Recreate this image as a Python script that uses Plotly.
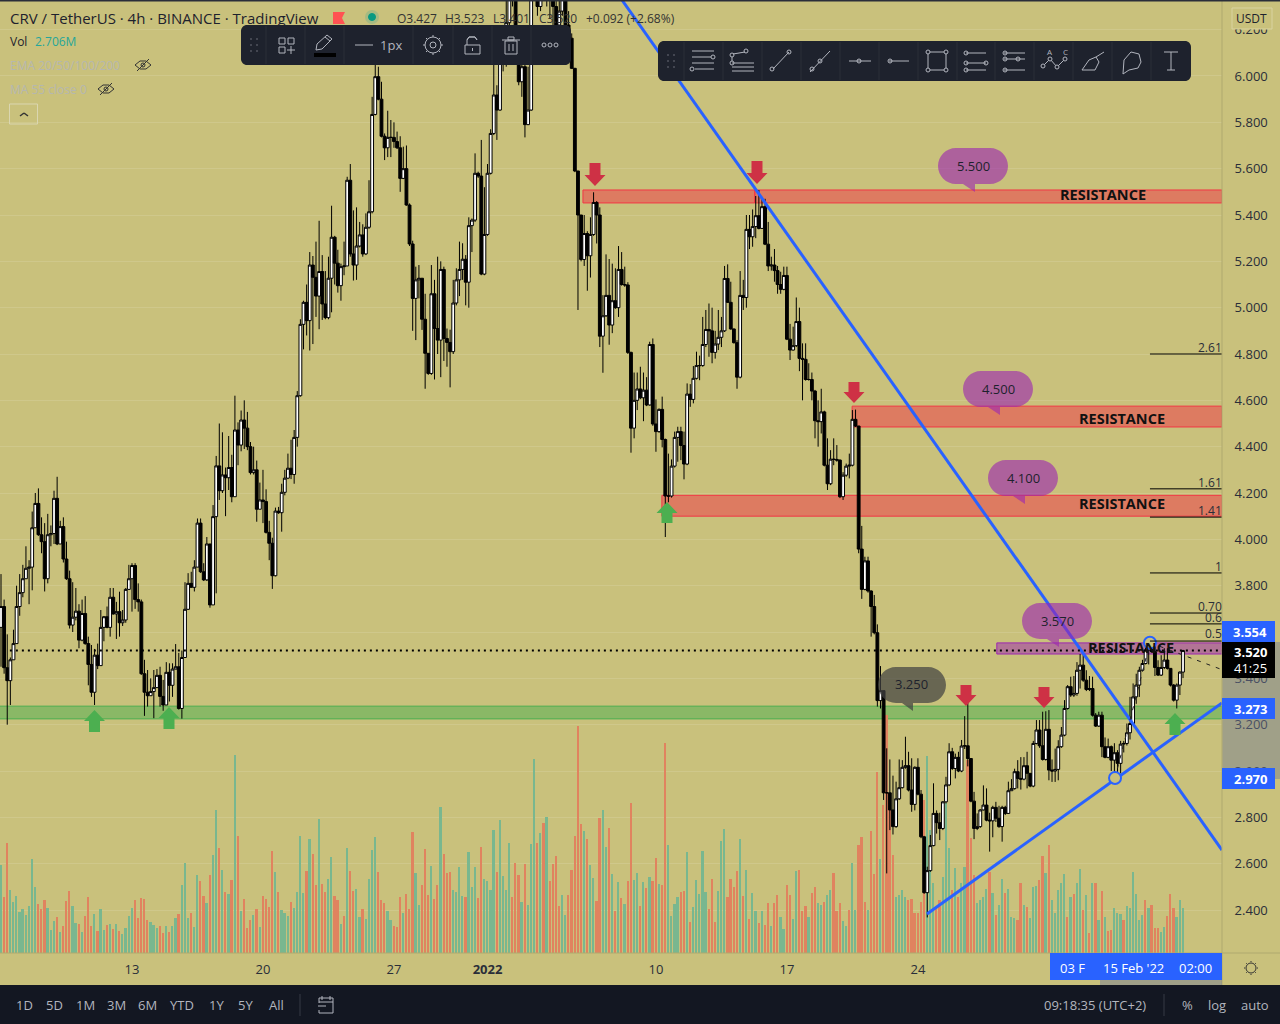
"""CRV / USDT 4h chart, TradingView style."""
import plotly.graph_objects as go

W, H = 1280, 1024
AXIS_X, AXIS_Y = 1222, 953
BG = "#C9C17C"
BLUE = "#2962FF"
ICON = "#B2B5BE"
PANEL = "#1E222D"
FONT = "Open Sans"

FIRST_OPEN = 3.62
closes = [
    3.71, 3.446, 3.39, 3.48, 3.55, 3.71, 3.77, 3.83, 3.875, 3.88,
    4.05, 4.155, 4.02, 3.99, 3.83, 4.02, 4.025, 4.177, 3.98, 4.055,
    3.915, 3.83, 3.63, 3.664, 3.69, 3.565, 3.68, 3.55, 3.46, 3.34,
    3.50, 3.455, 3.62, 3.666, 3.62, 3.75, 3.678, 3.688, 3.64, 3.652,
    3.784, 3.83, 3.887, 3.74, 3.73, 3.42, 3.34, 3.325, 3.343, 3.36,
    3.413, 3.322, 3.285, 3.426, 3.37, 3.44, 3.45, 3.27, 3.49, 3.698,
    3.81, 3.793, 3.88, 4.07, 3.86, 3.825, 3.98, 3.717, 4.098, 4.317,
    4.21, 4.278, 4.266, 4.31, 4.184, 4.472, 4.407, 4.515, 4.48, 4.40,
    4.288, 4.30, 4.13, 4.17, 4.163, 4.03, 3.983, 3.843, 4.122, 4.115,
    4.203, 4.264, 4.307, 4.28, 4.44, 4.62, 4.928, 5.023, 4.944, 5.184,
    5.131, 5.05, 5.156, 5.016, 4.957, 5.127, 5.304, 5.192, 5.095, 5.177,
    5.18, 5.55, 5.232, 5.184, 5.266, 5.314, 5.232, 5.347, 5.414, 5.834,
    5.997, 5.90, 5.74, 5.69, 5.735, 5.735, 5.717, 5.69, 5.558, 5.60,
    5.443, 5.275, 5.04, 5.12, 5.127, 4.95, 4.803, 4.716, 5.06, 4.91,
    4.86, 5.165, 4.867, 4.85, 4.81, 5.02, 5.12, 5.165, 5.209, 5.11,
    5.354, 5.378, 5.58, 5.568, 5.145, 5.316, 5.58, 5.752, 5.918, 5.853,
    6.10, 6.06, 6.23, 6.42, 6.36, 6.20, 5.975, 6.04, 5.79, 5.853,
    6.45, 6.40, 6.30, 6.36, 6.42, 6.38, 6.34, 6.30, 6.22, 6.28,
    6.40, 6.22, 6.163, 6.033, 5.59, 5.40, 5.208, 5.32, 5.224, 5.316,
    5.454, 5.40, 4.877, 4.965, 5.053, 4.925, 5.03, 5.0, 5.165, 5.10,
    5.098, 4.807, 4.48, 4.60, 4.649, 4.611, 4.644, 4.58, 4.841, 4.498,
    4.465, 4.561, 4.431, 4.187, 4.187, 4.316, 4.44, 4.465, 4.405, 4.325,
    4.627, 4.604, 4.695, 4.75, 4.75, 4.841, 4.906, 4.90, 4.807, 4.843,
    4.872, 4.90, 5.126, 5.023, 4.908, 4.849, 4.70, 5.053, 5.044, 5.338,
    5.306, 5.35, 5.397, 5.342, 5.436, 5.274, 5.18, 5.184, 5.16, 5.10,
    5.079, 5.139, 4.864, 4.817, 4.836, 4.94, 4.781, 4.777, 4.69, 4.69,
    4.64, 4.512, 4.508, 4.55, 4.32, 4.24, 4.346, 4.345, 4.342, 4.184,
    4.277, 4.316, 4.32, 4.518, 4.489, 3.958, 3.784, 3.907, 3.777, 3.71,
    3.597, 3.304, 3.347, 2.906, 2.906, 2.832, 2.76, 2.88, 2.928, 3.016,
    3.023, 2.918, 2.856, 3.016, 2.90, 2.716, 2.475, 2.57, 2.678, 2.817,
    2.777, 2.752, 2.867, 2.94, 3.083, 3.011, 3.059, 3.0, 3.108, 3.109,
    3.054, 2.87, 2.752, 2.76, 2.832, 2.853, 2.788, 2.785, 2.843, 2.796,
    2.76, 2.843, 2.817, 2.915, 2.924, 2.997, 2.968, 2.965, 3.023, 2.99,
    2.935, 3.119, 3.177, 3.109, 3.05, 3.18, 3.004, 3.0, 3.007, 3.105,
    3.155, 3.27, 3.364, 3.328, 3.335, 3.435, 3.457, 3.392, 3.352, 3.356,
    3.241, 3.194, 3.241, 3.105, 3.059, 3.105, 3.047, 3.079, 3.033, 3.116,
    3.119, 3.165, 3.205, 3.32, 3.371, 3.435, 3.464, 3.522, 3.543, 3.515,
    3.447, 3.414, 3.447, 3.479, 3.443, 3.371, 3.306, 3.371, 3.427, 3.52,
]
highs = [
    3.85, 3.74, 3.59, 3.49, 3.61, 3.80, 3.85, 3.89, 3.97, 3.91,
    4.12, 4.20, 4.22, 4.095, 4.07, 4.11, 4.06, 4.21, 4.27, 4.08,
    4.095, 3.99, 3.865, 3.815, 3.79, 3.72, 3.74, 3.755, 3.58, 3.544,
    3.527, 3.55, 3.695, 3.669, 3.71, 3.79, 3.79, 3.73, 3.774, 3.695,
    3.79, 3.89, 3.897, 3.897, 3.81, 3.74, 3.48, 3.436, 3.40, 3.436,
    3.44, 3.45, 3.393, 3.47, 3.465, 3.465, 3.548, 3.51, 3.52, 3.815,
    3.854, 3.86, 3.91, 4.09, 4.09, 3.897, 4.01, 3.98, 4.148, 4.36,
    4.50, 4.462, 4.31, 4.446, 4.365, 4.62, 4.505, 4.556, 4.60, 4.55,
    4.42, 4.40, 4.34, 4.245, 4.30, 4.216, 4.08, 4.007, 4.137, 4.14,
    4.24, 4.30, 4.37, 4.43, 4.472, 4.64, 4.95, 5.03, 5.10, 5.24,
    5.223, 5.285, 5.375, 5.227, 5.158, 5.22, 5.44, 5.31, 5.25, 5.19,
    5.285, 5.565, 5.62, 5.42, 5.433, 5.37, 5.36, 5.407, 5.55, 5.91,
    6.05, 6.04, 5.975, 5.752, 5.85, 5.81, 5.80, 5.76, 5.74, 5.695,
    5.70, 5.45, 5.289, 5.177, 5.184, 5.127, 5.06, 4.803, 5.184, 5.12,
    5.22, 5.20, 5.177, 4.91, 4.905, 5.12, 5.17, 5.285, 5.278, 5.227,
    5.39, 5.385, 5.666, 5.587, 5.724, 5.52, 5.62, 5.77, 6.05, 5.96,
    6.20, 6.15, 6.33, 6.50, 6.46, 6.40, 6.21, 6.10, 6.06, 6.04,
    6.55, 6.52, 6.42, 6.44, 6.50, 6.46, 6.42, 6.45, 6.38, 6.40,
    6.50, 6.45, 6.28, 6.184, 6.035, 5.59, 5.40, 5.40, 5.33, 5.39,
    5.498, 5.46, 5.433, 5.054, 5.23, 5.21, 5.19, 5.17, 5.266, 5.24,
    5.177, 5.11, 4.81, 4.72, 4.72, 4.745, 4.72, 4.70, 4.853, 4.867,
    4.604, 4.565, 4.616, 4.435, 4.37, 4.345, 4.465, 4.486, 4.486, 4.465,
    4.673, 4.67, 4.748, 4.81, 4.793, 4.96, 4.99, 5.018, 5.0, 4.90,
    4.99, 4.96, 5.18, 5.187, 5.112, 4.91, 4.86, 5.158, 5.12, 5.40,
    5.40, 5.424, 5.482, 5.508, 5.476, 5.47, 5.37, 5.22, 5.253, 5.18,
    5.155, 5.177, 5.177, 4.93, 4.918, 5.044, 5.0, 4.846, 4.846, 4.76,
    4.72, 4.645, 4.60, 4.65, 4.555, 4.436, 4.385, 4.436, 4.407, 4.345,
    4.29, 4.327, 4.37, 4.558, 4.56, 4.49, 4.058, 3.925, 3.925, 3.78,
    3.76, 3.633, 3.453, 3.347, 3.098, 3.05, 2.98, 2.954, 3.05, 3.047,
    3.148, 3.083, 3.055, 3.02, 3.055, 2.918, 2.72, 2.587, 2.724, 2.947,
    2.83, 2.82, 2.87, 2.975, 3.12, 3.10, 3.075, 3.083, 3.134, 3.237,
    3.295, 3.056, 2.91, 2.817, 2.835, 2.938, 2.925, 2.82, 2.85, 2.867,
    2.85, 2.85, 2.85, 2.954, 2.965, 3.01, 3.047, 3.06, 3.06, 3.083,
    2.99, 3.13, 3.22, 3.22, 3.256, 3.258, 3.263, 3.05, 3.097, 3.133,
    3.19, 3.306, 3.371, 3.407, 3.41, 3.47, 3.505, 3.505, 3.435, 3.41,
    3.407, 3.25, 3.256, 3.256, 3.145, 3.14, 3.11, 3.12, 3.09, 3.13,
    3.13, 3.205, 3.32, 3.378, 3.42, 3.45, 3.48, 3.558, 3.572, 3.565,
    3.558, 3.478, 3.50, 3.53, 3.53, 3.44, 3.375, 3.378, 3.43, 3.523,
]
lows = [
    3.45, 3.42, 3.20, 3.285, 3.48, 3.55, 3.67, 3.75, 3.83, 3.72,
    3.78, 4.05, 4.015, 3.94, 3.775, 3.81, 3.97, 3.98, 3.975, 3.98,
    3.90, 3.825, 3.615, 3.60, 3.65, 3.53, 3.56, 3.545, 3.37, 3.32,
    3.285, 3.44, 3.455, 3.56, 3.616, 3.58, 3.675, 3.57, 3.58, 3.626,
    3.64, 3.785, 3.688, 3.70, 3.688, 3.415, 3.238, 3.278, 3.325, 3.228,
    3.36, 3.278, 3.26, 3.285, 3.30, 3.32, 3.44, 3.265, 3.226, 3.49,
    3.695, 3.79, 3.775, 3.88, 3.855, 3.82, 3.82, 3.705, 3.717, 3.767,
    4.17, 4.20, 4.10, 4.213, 4.16, 4.184, 4.32, 4.38, 4.39, 4.385,
    4.28, 4.28, 4.076, 4.13, 4.07, 4.025, 3.91, 3.786, 3.84, 4.11,
    4.033, 4.19, 4.26, 4.26, 4.24, 4.40, 4.616, 4.82, 4.88, 4.815,
    4.843, 4.96, 4.907, 4.947, 4.95, 4.95, 4.98, 5.10, 5.065, 5.03,
    5.14, 5.18, 5.22, 5.117, 5.12, 5.26, 5.22, 5.227, 5.34, 5.407,
    5.83, 5.895, 5.735, 5.637, 5.65, 5.65, 5.69, 5.685, 5.50, 5.555,
    5.44, 5.266, 4.90, 4.86, 5.04, 4.904, 4.65, 4.71, 4.71, 4.69,
    4.80, 4.70, 4.77, 4.745, 4.656, 4.80, 5.01, 5.05, 5.12, 5.01,
    5.0, 5.24, 5.37, 5.56, 5.14, 5.14, 5.31, 5.575, 5.745, 5.724,
    5.85, 6.02, 6.04, 6.20, 6.30, 6.17, 5.96, 5.91, 5.735, 5.788,
    5.85, 6.33, 6.26, 6.28, 6.34, 6.30, 6.25, 6.22, 6.12, 6.20,
    6.26, 6.20, 6.10, 6.03, 5.585, 4.99, 5.20, 5.18, 5.073, 5.13,
    5.31, 5.277, 4.83, 4.719, 4.96, 4.84, 4.89, 4.995, 4.96, 5.095,
    5.09, 4.80, 4.374, 4.436, 4.558, 4.605, 4.51, 4.575, 4.577, 4.49,
    4.378, 4.46, 4.397, 4.01, 4.16, 4.18, 4.31, 4.335, 4.342, 4.259,
    4.32, 4.572, 4.587, 4.69, 4.687, 4.745, 4.83, 4.788, 4.76, 4.78,
    4.817, 4.83, 4.895, 5.02, 4.905, 4.845, 4.65, 4.695, 4.99, 5.0,
    5.253, 5.263, 5.30, 5.338, 5.34, 5.27, 5.158, 5.16, 5.112, 5.06,
    5.06, 5.075, 4.86, 4.774, 4.815, 4.83, 4.726, 4.60, 4.685, 4.685,
    4.60, 4.436, 4.40, 4.457, 4.315, 4.213, 4.234, 4.32, 4.335, 4.178,
    4.17, 4.27, 4.263, 4.315, 4.485, 3.94, 3.743, 3.78, 3.77, 3.58,
    3.59, 3.278, 3.27, 2.875, 2.558, 2.745, 2.726, 2.755, 2.875, 2.925,
    3.01, 2.912, 2.824, 2.83, 2.895, 2.71, 2.47, 2.368, 2.565, 2.675,
    2.73, 2.702, 2.745, 2.86, 2.935, 3.005, 2.968, 2.995, 2.995, 3.095,
    3.02, 2.865, 2.706, 2.745, 2.755, 2.83, 2.783, 2.652, 2.714, 2.78,
    2.755, 2.695, 2.81, 2.815, 2.915, 2.92, 2.925, 2.92, 2.96, 2.925,
    2.93, 2.93, 3.115, 3.10, 3.045, 3.045, 2.96, 2.953, 2.953, 2.96,
    3.10, 3.15, 3.265, 3.32, 3.32, 3.325, 3.356, 3.385, 3.345, 3.345,
    3.235, 3.19, 3.19, 3.06, 3.055, 3.055, 3.0, 2.96, 2.953, 2.99,
    3.08, 3.11, 3.136, 3.20, 3.29, 3.32, 3.43, 3.46, 3.46, 3.51,
    3.41, 3.41, 3.41, 3.44, 3.438, 3.365, 3.30, 3.27, 3.328, 3.401,
]
opens = [FIRST_OPEN] + closes[:-1]

# volume in millions
volumes = [
    5.28, 3.38, 6.58, 3.78, 3.08, 3.42, 2.46, 2.64, 2.28, 2.82,
    5.64, 3.96, 2.94, 2.64, 3.18, 2.70, 1.38, 1.92, 2.18, 1.26,
    1.62, 3.12, 3.72, 2.82, 1.80, 1.74, 1.26, 2.22, 3.36, 1.62,
    2.34, 1.32, 2.64, 1.38, 1.68, 1.74, 1.44, 1.74, 1.32, 1.14,
    1.50, 2.22, 2.70, 3.18, 2.10, 3.30, 3.24, 1.98, 1.86, 1.68,
    1.50, 1.62, 1.20, 1.62, 1.26, 1.62, 2.10, 2.34, 4.08, 5.40,
    2.10, 2.40, 1.56, 4.68, 4.32, 3.42, 3.00, 4.68, 5.88, 8.58,
    6.30, 4.98, 3.66, 3.54, 4.38, 11.88, 7.02, 2.52, 3.24, 1.50,
    1.98, 2.28, 2.64, 1.56, 3.42, 3.24, 2.76, 6.12, 4.86, 3.66,
    2.58, 2.40, 2.22, 3.06, 2.70, 3.66, 7.02, 3.60, 4.92, 6.84,
    5.94, 4.08, 8.04, 4.14, 3.66, 4.44, 5.76, 3.42, 3.18, 1.74,
    2.22, 6.30, 4.92, 3.72, 3.84, 2.16, 2.64, 2.04, 4.44, 6.18,
    6.96, 4.86, 3.18, 3.00, 2.52, 1.98, 1.62, 1.56, 3.36, 2.40,
    3.54, 2.64, 7.26, 4.80, 2.88, 4.08, 6.24, 3.48, 5.22, 3.24,
    4.08, 8.76, 5.94, 4.80, 4.86, 3.78, 3.66, 5.16, 3.42, 3.36,
    6.06, 3.96, 5.16, 3.30, 6.36, 4.44, 4.32, 3.78, 7.38, 4.86,
    7.98, 4.62, 3.78, 6.60, 3.36, 5.40, 4.68, 3.06, 5.34, 2.88,
    6.54, 11.64, 6.60, 7.20, 7.80, 8.16, 4.32, 5.34, 5.82, 2.82,
    3.48, 2.28, 3.48, 4.98, 7.02, 13.62, 7.74, 7.32, 6.84, 5.28,
    4.50, 3.12, 8.10,
    8.58, 6.38, 7.48, 4.74, 2.52, 4.26, 3.30, 2.94, 4.32, 9.00,
    4.38, 4.80, 2.82, 4.26, 3.90, 4.54, 4.32, 5.70, 4.16, 4.08,
    12.60, 6.48, 2.22, 2.94, 3.36, 3.66, 3.72, 6.06, 1.86, 2.76,
    4.38, 3.54, 6.12, 3.66, 2.64, 4.44, 1.86, 3.72, 6.72, 7.44,
    3.36, 4.44, 3.96, 4.92, 6.84, 3.42, 4.98, 2.04, 3.60, 2.52,
    1.78, 2.52, 1.68, 2.98, 1.62, 2.98, 3.48, 2.18, 1.42, 4.08,
    3.48, 2.04, 4.92, 4.98, 2.52, 2.82, 2.18, 3.60, 3.94, 2.98,
    2.88, 3.04, 3.48, 3.78, 4.80, 2.52, 3.02, 1.92, 1.62, 2.58,
    5.40, 2.58, 6.48, 6.96, 3.06, 2.58, 7.32, 4.74, 10.86, 5.64,
    8.88, 14.28, 9.36, 5.88, 3.38, 3.48, 3.78, 3.38, 3.18, 3.22,
    2.38, 2.38, 3.08, 9.18, 11.82, 7.38, 4.18, 2.78, 3.18, 4.58,
    8.98, 6.28, 3.78, 5.08, 3.38, 4.18, 5.18, 11.58, 6.88, 4.68,
    2.98, 3.18, 3.38, 3.82, 4.88, 3.58, 2.28, 2.88, 4.42, 3.58,
    3.82, 2.18, 2.08, 1.98, 4.18, 2.88, 2.78, 2.08, 3.94, 4.04,
    4.38, 5.82, 4.78, 6.46, 3.18, 2.42, 3.78, 4.18, 4.74, 2.18,
    3.38, 3.54, 4.18, 5.02, 2.58, 3.48, 1.18, 4.22, 4.18, 1.98,
    3.74, 2.18, 1.34, 1.38, 2.68, 2.38, 2.34, 1.98, 2.82, 2.68,
    4.86, 3.52, 1.98, 2.28, 3.18, 2.68, 2.88, 1.48, 1.48, 1.28,
    1.58, 2.22, 3.54, 2.68, 2.18, 3.18, 2.70,
]
volume_sides = (
    "grrggggggg" "ggrrrgggrg" "rrrggrgrrr" "grggrgrgrg" "gggrrrrrgg"
    "grrgrggrgg" "grggrrgrgg" "rgrgrgrgrr" "rgrgrrrrgr" "gggrggggrg"
    "rrgrrggrrg" "rgrrggrggg" "grrrggrrrg" "rrrggrrrgr" "rgrrrggggr"
    "gggrrggggr" "ggggrrrgrg" "ggrgrgrrrr" "ggrrrrrgrg" "grr"
    "ggrgrgrgrr" "ggrgrgrrgr" "rggggrrgrg" "ggggrrrggg" "rrrrgrgrgg"
    "rgrrgrrggr" "rggrrrgrrg" "grggrrrggr" "ggrrrgrrrg" "rrrrggggrr"
    "rrrrgggrrg" "ggrgrggrrr" "ggggrgrggr" "gggrrgrggg" "rrgrgggggr"
    "grggrgrgrg" "rgrrgggrgg" "ggggrgrrrg" "grrrggg"
)

bar_index = list(range(len(closes)))
tick_index = [0, 42, 84, 126, 156, 210, 252, 294]
tick_labels = ["6", "13", "20", "27", "<b>2022</b>", "10", "17", "24"]

# start bar, end bar, top price, bottom price
red_zones = [
    (186.6, 241.7, 5.508, 5.452),
    (241.7, 391.5, 5.508, 5.452),
    (272.9, 391.5, 4.575, 4.485),
    (211.9, 391.5, 4.19, 4.10),
]
purple_zones = [(319.3, 391.5, 3.553, 3.505)]
green_zones = [(-1, 391.5, 3.28, 3.225)]

fib_levels = [4.80, 4.218, 4.096, 3.855, 3.682, 3.635, 3.561]
fib_texts = ["2.61", "1.61", "1.41", "1", "0.70", "0.6", "0.5"]
fib_text_y = [347, 482, 510, 566, 606, 617, 633]

down_line_x, down_line_y = [199.1, 391.5], [6.328, 2.659]
up_line_x, up_line_y = [296.9, 391.5], [2.383, 3.294]
handle_x, handle_y = [357.2, 368.4], [2.97, 3.554]
last_price = 3.52

shapes = []
notes = []


def px(x):
    return x / W


def py(y):
    return 1 - y / H


def box(x0, y0, x1, y1, fill=None, line=None, lw=1):
    shapes.append(dict(type="rect", xref="paper", yref="paper", layer="above",
                       x0=px(x0), x1=px(x1), y0=py(y0), y1=py(y1),
                       fillcolor=fill or "rgba(0,0,0,0)",
                       line=dict(color=line or "rgba(0,0,0,0)", width=lw if line else 0)))


def seg(x0, y0, x1, y1, color=ICON, lw=1):
    shapes.append(dict(type="line", xref="paper", yref="paper", layer="above",
                       x0=px(x0), x1=px(x1), y0=py(y0), y1=py(y1),
                       line=dict(color=color, width=lw)))


def ring(cx, cy, r, color=ICON, fill=None, lw=1):
    shapes.append(dict(type="circle", xref="paper", yref="paper", layer="above",
                       x0=px(cx - r), x1=px(cx + r), y0=py(cy - r), y1=py(cy + r),
                       fillcolor=fill or "rgba(0,0,0,0)",
                       line=dict(color=color, width=lw)))


def poly(points, fill=None, line=None, lw=1):
    d = "M" + " L".join(f"{px(x):.5f},{py(y):.5f}" for x, y in points) + " Z"
    shapes.append(dict(type="path", xref="paper", yref="paper", layer="above", path=d,
                       fillcolor=fill or "rgba(0,0,0,0)",
                       line=dict(color=line or "rgba(0,0,0,0)", width=lw if line else 0)))


def rounded(x0, y0, x1, y1, r, fill, tail=None):
    """Rounded box; tail is (left x, tip x, tip y) under the bottom edge."""
    k = r * 0.45
    def p(x, y):
        return f"{px(x):.5f},{py(y):.5f}"
    d = f"M{p(x0 + r, y0)} L{p(x1 - r, y0)} "
    d += f"C{p(x1 - k, y0)} {p(x1, y0 + k)} {p(x1, y0 + r)} L{p(x1, y1 - r)} "
    d += f"C{p(x1, y1 - k)} {p(x1 - k, y1)} {p(x1 - r, y1)} "
    if tail:
        d += f"L{p(tail[1], y1)} L{p(tail[1], tail[2])} L{p(tail[0], y1)} "
    d += f"L{p(x0 + r, y1)} C{p(x0 + k, y1)} {p(x0, y1 - k)} {p(x0, y1 - r)} "
    d += f"L{p(x0, y0 + r)} C{p(x0, y0 + k)} {p(x0 + k, y0)} {p(x0 + r, y0)} Z"
    shapes.append(dict(type="path", xref="paper", yref="paper", layer="above", path=d,
                       fillcolor=fill, line=dict(width=0, color="rgba(0,0,0,0)")))


def text(x, y, s, size=13, color="#1E222D", anchor="center", family=FONT):
    notes.append(dict(xref="paper", yref="paper", x=px(x), y=py(y), text=s,
                      showarrow=False, xanchor=anchor, yanchor="middle",
                      font=dict(size=size, color=color, family=family), borderpad=0))


def arrow_down(cx, top, tip, color="#CE3145"):
    neck = tip - 11
    poly([(cx - 5.5, top), (cx + 5.5, top), (cx + 5.5, neck), (cx + 10.5, neck),
          (cx, tip), (cx - 10.5, neck), (cx - 5.5, neck)], fill=color)


def arrow_up(cx, tip, bottom, color="#4CAF50"):
    neck = tip + 11
    poly([(cx, tip), (cx + 10.5, neck), (cx + 5.5, neck), (cx + 5.5, bottom),
          (cx - 5.5, bottom), (cx - 5.5, neck), (cx - 10.5, neck)], fill=color)


def zone(z, fill, line):
    return dict(type="rect", xref="x", yref="y2", layer="below", x0=z[0], x1=z[1], y0=z[3], y1=z[2],
                fillcolor=fill, line=dict(color=line, width=1))


fig = go.Figure()

fig.add_trace(go.Bar(
    x=bar_index, y=volumes, yaxis="y", width=0.55,
    marker=dict(color=["#79B78F" if s == "g" else "#E0835F" for s in volume_sides], line=dict(width=0)),
    hoverinfo="skip", showlegend=False,
))
fig.add_trace(go.Candlestick(
    x=bar_index, open=opens, high=highs, low=lows, close=closes, yaxis="y2",
    increasing=dict(fillcolor="#FFFFFF", line=dict(color="#000000", width=1)),
    decreasing=dict(fillcolor="#000000", line=dict(color="#000000", width=1)),
    showlegend=False, hoverinfo="skip",
))
for lx, ly in ((down_line_x, down_line_y), (up_line_x, up_line_y)):
    fig.add_trace(go.Scatter(x=lx, y=ly, yaxis="y2", mode="lines", hoverinfo="skip", showlegend=False,
                             line=dict(color=BLUE, width=3)))
fig.add_trace(go.Scatter(x=handle_x + [391], y=handle_y + [3.44], yaxis="y2", mode="lines", hoverinfo="skip",
                         showlegend=False, line=dict(color="#222222", width=1, dash="4px,6px")))
fig.add_trace(go.Scatter(x=handle_x, y=handle_y, yaxis="y2", mode="markers", hoverinfo="skip", showlegend=False,
                         marker=dict(size=12, color=BG, line=dict(color=BLUE, width=2))))

# price zones, fib lines, current price
zones = [zone(z, "rgba(242,54,69,0.5)", "#F23645") for z in red_zones]
zones += [zone(z, "rgba(156,39,176,0.5)", "#9C27B0") for z in purple_zones]
zones += [zone(z, "rgba(76,175,80,0.5)", "#4CAF50") for z in green_zones]
shapes.extend(zones)
for level in fib_levels:
    shapes.append(dict(type="line", xref="x", yref="y2", layer="above", x0=368.4, x1=391.5, y0=level, y1=level,
                       line=dict(color="#000000", width=1)))
for s, y in zip(fib_texts, fib_text_y):
    text(AXIS_X + 1, y, s, size=12, color="#2A2E39", anchor="right")
shapes.append(dict(type="line", xref="x", yref="y2", layer="above", x0=-1, x1=391.5, y0=last_price, y1=last_price,
                   line=dict(color="#000000", width=2, dash="2px,4px")))

# arrows
for cx, top, tip in [(595, 163, 186), (757, 161, 184), (854, 382, 403), (966, 685, 706), (1044, 687, 708)]:
    arrow_down(cx, top, tip)
for cx, tip, bottom in [(94.5, 710, 732), (169, 707, 729), (667, 502, 523), (1175, 713, 735)]:
    arrow_up(cx, tip, bottom)

# callouts
for x0, y0, s in [(938, 148, "5.500"), (963, 371, "4.500"), (988, 460, "4.100"), (1022, 603, "3.570")]:
    rounded(x0, y0, x0 + 70, y0 + 36, 18, "rgba(156,39,176,0.62)", (x0 + 25, x0 + 37, y0 + 44))
    text(x0 + 35, y0 + 18, s, size=13, color="#1E222D")
rounded(878, 667, 946, 703, 18, "rgba(66,66,66,0.72)", (902, 913, 711))
text(911, 684, "3.250", size=13, color="#1E222D")

RES = "<b>RESISTANCE</b>"
for x, y in [(1103, 194), (1122, 418), (1122, 503), (1131, 647)]:
    text(x, y, RES, size=14.5, color="#111111")

# right price scale
seg(AXIS_X, 0, AXIS_X, 985, color="#AFA96E")
seg(0, AXIS_Y, 1280, AXIS_Y, color="#AFA96E")
box(AXIS_X + 0.5, 642, 1280, 779, fill="rgba(110,120,150,0.45)")
for y0, y1, s in [(621, 642, "3.554"), (698, 719, "3.273"), (768, 789, "2.970")]:
    box(AXIS_X, y0, 1275, y1, fill=BLUE)
    text(1250, (y0 + y1) / 2, f"<b>{s}</b>", size=13, color="#FFFFFF")
box(AXIS_X, 642, 1275, 678, fill="#000000")
text(1250, 652, "<b>3.520</b>", size=13, color="#FFFFFF")
text(1250, 668, "41:25", size=13, color="#FFFFFF")
box(1232, 8, 1272, 29, fill=BG, line="#D9D3A0")
text(1251, 18.5, "USDT", size=12, color="#1E222D")

# time scale selection
box(1100, 980, AXIS_X, 985, fill="rgba(110,120,150,0.45)")
box(1050, AXIS_Y, AXIS_X, 980, fill=BLUE)
text(1072, 967.5, "03 F", color="#FFFFFF")
text(1133, 967.5, "15 Feb '22", color="#FFFFFF")
text(1195, 967.5, "02:00", color="#FFFFFF")
ring(1251, 968, 5, color="#333333")
for dx, dy in [(0, -7), (0, 7), (-7, 0), (7, 0), (-5, -5), (5, 5), (-5, 5), (5, -5)]:
    seg(1251 + dx * 0.85, 968 + dy * 0.85, 1251 + dx, 968 + dy, color="#333333")

# bottom bar
box(0, 985, W, H, fill="#131722")
for s, x in zip(["1D", "5D", "1M", "3M", "6M", "YTD", "1Y", "5Y", "All"],
                [24, 54, 85, 116, 147, 182, 216, 245, 276]):
    text(x, 1005, s, size=13, color="#B2B5BE")
seg(300, 994, 300, 1016, color="#363A45")
box(319, 998, 333, 1013, line=ICON)
seg(319, 1002, 333, 1002)
seg(322, 996, 322, 1000)
seg(330, 996, 330, 1000)
box(315, 1003, 325, 1010, fill="#131722")
seg(318, 1006, 326, 1006)
text(1147, 1005, "09:18:35 (UTC+2)", size=13, color="#B2B5BE", anchor="right")
seg(1164, 994, 1164, 1016, color="#363A45")
text(1187, 1005, "%", size=13, color="#B2B5BE")
text(1217, 1005, "log", size=13, color="#B2B5BE")
text(1255, 1005, "auto", size=13, color="#B2B5BE")
box(0, 0, W, 1.5, fill="#2A2E39")

# legend block
text(9, 18, "CRV / TetherUS · 4h · BINANCE · TradingView", size=15, color="#1E222D", anchor="left")
poly([(333, 12), (345, 12), (342, 18), (345, 24), (333, 24)], fill="#FF5252")
ring(372, 17, 7, color="rgba(0,0,0,0)", fill="rgba(38,166,154,0.22)")
ring(372, 17, 3.5, color="#089981", fill="#089981")
for x, s in [(396, "O3.427"), (444, "H3.523"), (492, "L3.401"), (538, "C3.520"), (585, "+0.092 (+2.68%)")]:
    text(x, 18, s, size=12, color="#333333", anchor="left")
text(9, 41, "Vol", size=12, color="#1E222D", anchor="left")
text(34, 41, "2.706M", size=12, color="#26A69A", anchor="left")
text(9, 65, "EMA 20/50/100/200", size=12, color="#B5B7B0", anchor="left")
text(9, 89, "MA 55 close 0", size=12, color="#B5B7B0", anchor="left")
for cx, cy in [(143, 65), (106, 89)]:
    poly([(cx - 8, cy), (cx - 3, cy - 4), (cx + 3, cy - 4), (cx + 8, cy), (cx + 3, cy + 4), (cx - 3, cy + 4)],
         line="#333333")
    ring(cx, cy, 2, color="#333333")
    seg(cx - 6, cy + 6, cx + 6, cy - 6, color="#333333")
box(9.5, 104, 37.5, 124, line="#DAD6B0")
seg(20, 116, 24, 113, color="#333333", lw=1.5)
seg(24, 113, 28, 116, color="#333333", lw=1.5)

# drawing toolbar, top left
rounded(241, 25, 571, 65, 6, PANEL)
for x in [266, 305, 344, 413, 453, 492, 531]:
    seg(x, 26, x, 64, color="#2A2E39")
for x in [251, 257]:
    for y in [39, 45, 51]:
        box(x - 1, y - 1, x + 1, y + 1, fill="#434651")
box(279, 38, 285, 44, line=ICON)
box(288, 38, 294, 44, line=ICON)
box(279, 47, 285, 53, line=ICON)
seg(291, 46, 291, 54)
seg(287, 50, 295, 50)
poly([(317, 44), (327, 35), (332, 39), (322, 49), (316, 50)], line=ICON)
seg(325, 37, 330, 41)
box(314, 53, 336, 57, fill="#000000")
seg(355, 45, 373, 45)
text(391, 45, "1px", size=13, color=ICON)
ring(433, 45, 8)
ring(433, 45, 3)
for dx, dy in [(0, -10), (0, 10), (-10, 0), (10, 0), (-7, -7), (7, 7), (-7, 7), (7, -7)]:
    seg(433 + dx * 0.8, 45 + dy * 0.8, 433 + dx, 45 + dy)
box(465, 45, 480, 54, line=ICON)
seg(467, 45, 467, 40)
poly([(467, 40), (469, 37), (475, 37), (477, 40), (475, 37), (469, 37)], line=ICON)
box(472, 48, 473, 51, fill=ICON)
box(505, 41, 517, 54, line=ICON)
seg(502, 40, 520, 40)
box(508, 37, 514, 40, line=ICON)
seg(509, 44, 509, 51)
seg(513, 44, 513, 51)
for x in [544, 550, 556]:
    ring(x, 45, 2)

# drawing toolbar, top right
rounded(658, 41, 1191, 81, 6, PANEL)
for x in [684, 723, 762, 801, 840, 879, 918, 957, 995, 1034, 1073, 1112, 1151]:
    seg(x, 42, x, 80, color="#2A2E39")
for x in [668, 674]:
    for y in [55, 61, 67]:
        box(x - 1, y - 1, x + 1, y + 1, fill="#434651")
for y, x0, x1 in [(51, 692, 714), (57, 692, 711), (63, 692, 714), (69, 695, 714)]:
    seg(x0, y, x1, y)
ring(713, 57, 2)
ring(692, 69, 2)
for y in [63, 67, 71]:
    seg(732, y, 754, y)
ring(732, 55, 2)
ring(746, 51, 2)
ring(732, 63, 2)
seg(733, 54, 745, 52)
seg(732, 57, 732, 61)
seg(773, 69, 789, 52)
ring(772, 69, 2)
ring(789, 52, 2)
seg(810, 72, 830, 51)
ring(812, 69, 2)
ring(820, 61, 2)
seg(849, 61, 871, 61)
ring(859, 61, 2)
seg(889, 61, 909, 61)
ring(890, 61, 2)
box(928, 52, 946, 70, line=ICON)
for cx, cy in [(928, 52), (946, 52), (928, 70), (946, 70)]:
    ring(cx, cy, 2, fill=PANEL)
for y in [53, 63, 70]:
    seg(966, y, 986, y)
ring(966, 53, 2)
ring(966, 63, 2)
ring(966, 70, 2)
ring(986, 63, 2)
for y in [53, 59, 70]:
    seg(1004, y, 1025, y)
ring(1005, 53, 2)
ring(1005, 59, 2)
ring(1005, 70, 2)
ring(1018, 59, 2)
text(1050, 51, "A", size=8, color=ICON)
text(1065, 51, "C", size=8, color=ICON)
for (x0, y0), (x1, y1) in [((1043, 66), (1050, 59)), ((1050, 59), (1057, 67)), ((1057, 67), (1065, 59))]:
    seg(x0, y0, x1, y1)
for cx, cy in [(1043, 66), (1050, 59), (1057, 67), (1065, 59)]:
    ring(cx, cy, 2, fill=PANEL)
poly([(1082, 70), (1089, 60), (1096, 57), (1099, 62), (1095, 70)], line=ICON)
seg(1096, 57, 1104, 52)
poly([(1123, 74), (1124, 60), (1131, 52), (1139, 54), (1141, 62), (1138, 68), (1129, 70)], line=ICON)
seg(1164, 52, 1178, 52)
seg(1171, 52, 1171, 70)
seg(1167, 70, 1175, 70)

fig.update_layout(
    width=W, height=H,
    margin=dict(l=0, r=0, t=0, b=0),
    paper_bgcolor=BG, plot_bgcolor=BG,
    bargap=0, boxgap=0.1, boxgroupgap=0, showlegend=False, hovermode=False,
    font=dict(family=FONT, size=13, color="#2A2E39"),
    xaxis=dict(
        domain=[0, AXIS_X / W], range=[-0.32, 391.5], anchor="y",
        tickmode="array", tickvals=tick_index, ticktext=tick_labels,
        tickfont=dict(size=13, color="#2A2E39"), ticks="outside", ticklen=4, tickcolor="rgba(0,0,0,0)",
        showgrid=False, zeroline=False, rangeslider=dict(visible=False), fixedrange=True,
    ),
    yaxis=dict(domain=[1 - AXIS_Y / H, 1], range=[0, 57.18], visible=False, fixedrange=True),
    yaxis2=dict(
        domain=[1 - AXIS_Y / H, 1], range=[2.2145, 6.328], overlaying="y", side="right", anchor="x",
        dtick=0.2, tick0=2.4, tickformat=".3f", ticks="outside", ticklen=9, tickcolor="rgba(0,0,0,0)",
        tickfont=dict(size=13, color="#2A2E39"), showgrid=True, gridcolor="#CFC88B", gridwidth=1,
        zeroline=False, fixedrange=True,
    ),
    shapes=shapes, annotations=notes,
)

fig.write_html("out.html", config=dict(displayModeBar=False),
               post_script="document.body.style.margin='0';document.body.style.overflow='hidden';")
